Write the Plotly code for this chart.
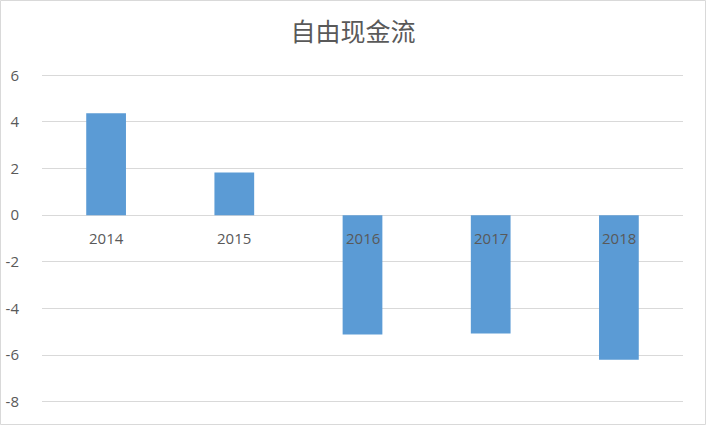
import plotly.graph_objects as go

years = ['2014', '2015', '2016', '2017', '2018']
fcf = [4.37, 1.83, -5.12, -5.08, -6.2]
y_ticks = [-8, -6, -4, -2, 0, 2, 4, 6]
y_tick_labels = ['-8', '-6', '-4', '-2', '0', '2', '4', '6']

W, H = 706, 425
ml, mr, mt, mb = 42, 23, 73, 21
pw, ph = W - ml - mr, H - mt - mb

fig = go.Figure(data=[go.Bar(x=years, y=fcf, marker_color='#5b9bd5',
                             marker_line_width=0, width=0.31)])

# category labels sit on the zero line, like Excel does
for i, yr in enumerate(years):
    fig.add_annotation(x=i, y=0, text=yr, showarrow=False, yshift=-23,
                       font=dict(size=15, color='#595959'))

# light border around the whole chart
fig.add_shape(type='rect', xref='paper', yref='paper',
              x0=(0.5 - ml) / pw, x1=(W - 0.5 - ml) / pw,
              y0=(H - mb - (H - 0.5)) / ph, y1=(H - mb - 0.5) / ph,
              line=dict(color='#d9d9d9', width=1))

fig.update_layout(
    width=W, height=H,
    margin=dict(l=ml, r=mr, t=mt, b=mb),
    plot_bgcolor='white', paper_bgcolor='white',
    title=dict(text='自由现金流', x=0.5, xanchor='center', y=1 - 32 / H, yanchor='middle',
               font=dict(family='Noto Sans CJK SC', size=25, color='#595959')),
    font=dict(family='Open Sans', size=15, color='#595959'),
    showlegend=False,
    xaxis=dict(type='category', range=[-0.5, 4.5], showticklabels=False, showgrid=False,
               zeroline=False, showline=False, automargin=False),
    yaxis=dict(range=[-8.1, 6.1], tickvals=y_ticks, ticktext=y_tick_labels,
               showgrid=True, gridcolor='#d9d9d9', gridwidth=1,
               zeroline=True, zerolinecolor='#d9d9d9', zerolinewidth=1,
               showline=False, ticklabelstandoff=22, automargin=False),
)

fig.write_html("out.html", post_script="document.body.style.margin='0';",
               config={'displayModeBar': False})
